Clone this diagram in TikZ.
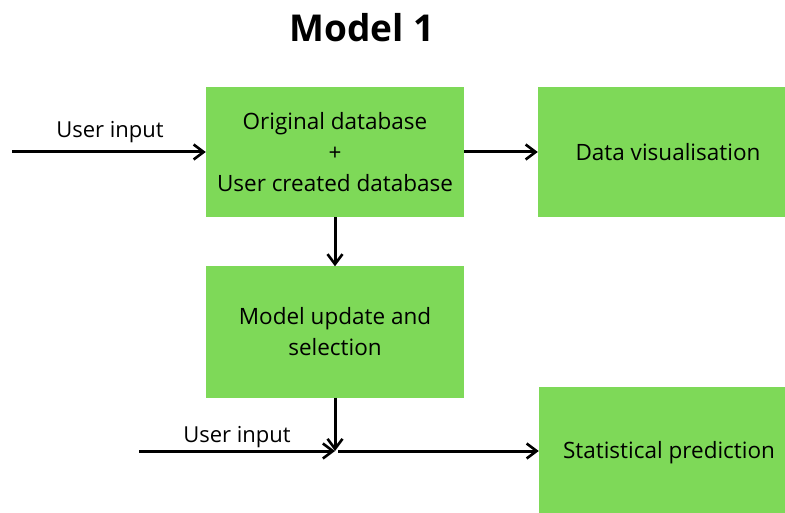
\documentclass[tikz,border=0pt]{standalone}
\usepackage{fontspec}
\setmainfont{Open Sans}
\usetikzlibrary{arrows.meta}
\definecolor{boxgreen}{RGB}{126,217,88}
\tikzset{
        block/.style={fill=boxgreen, minimum width=258pt, align=center, font=\fontsize{22.5}{31}\selectfont, inner sep=0pt},
        label/.style={font=\fontsize{22}{25}\selectfont, inner sep=0pt},
        flow/.style={line width=3pt, -{Straight Barb[length=10pt,width=15pt,line width=2.6pt]}}
    }

\begin{document}
\begin{tikzpicture}[x=1pt, y=-1pt]
            \useasboundingbox (0,0) rectangle (785,513);
            \node [font=\fontsize{37}{40}\selectfont\bfseries] (title) at (362, 28) {Model 1};

            \node [block, minimum height=130pt] (db) at (335, 152) {Original database\\+\\User created database};
            \node [block, minimum width=260pt, minimum height=130pt] (vis) at (668, 152) {Data visualisation};
            \node [block, minimum height=131pt] (model) at (335, 332) {Model update and\\selection};
            \node [block, minimum width=260pt, minimum height=132pt] (pred) at (669, 453) {Statistical prediction};

            \coordinate (in1) at (12, 152);
            \coordinate (in2) at (139, 451);
            \coordinate (join) at (335, 451);
            \coordinate (out) at (338, 451);

            \node [label] (lab1) at (110, 132) {User input};
            \node [label] (lab2) at (237, 437) {User input};

            \draw [flow] (in1) -- (db.west);
            \draw [flow] (db.east) -- (vis.west);
            \draw [flow] (db.south) -- (model.north);
            \draw [flow] (model.south) -- (join);
            \draw [flow] (in2) -- (join);
            \draw [flow] (out) -- (out -| pred.west);
        \end{tikzpicture}
\end{document}
